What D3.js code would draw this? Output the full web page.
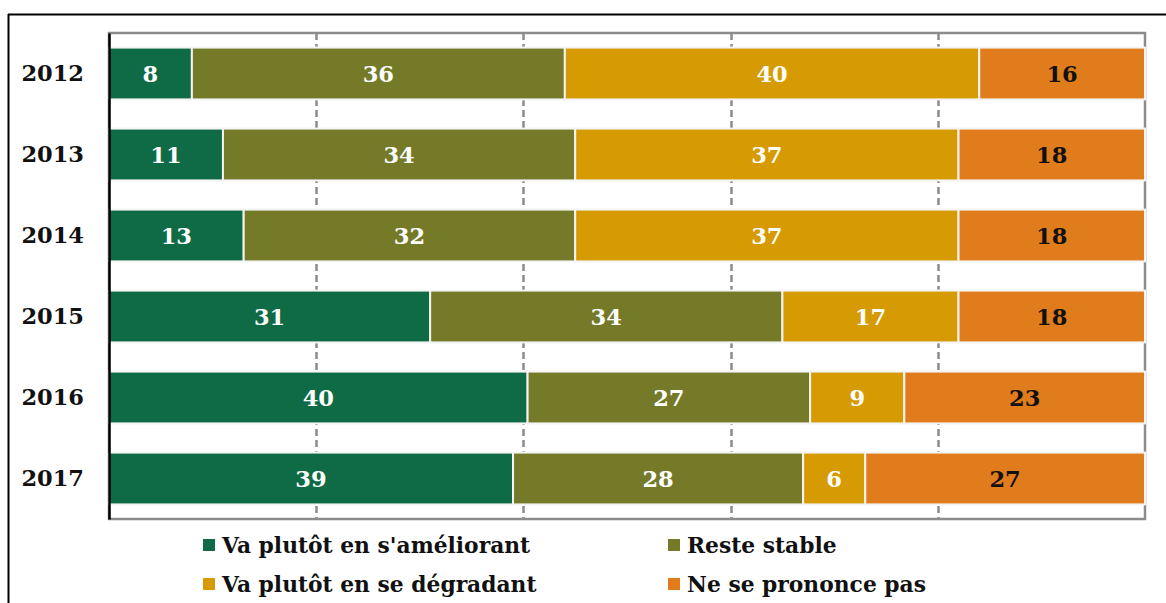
<!DOCTYPE html>
<html>
<head>
<meta charset="utf-8">
<script src="https://cdn.jsdelivr.net/npm/d3@7/dist/d3.min.js"></script>
<style>
  html, body { margin: 0; padding: 0; background: #fff; }
  svg { display: block; }
  text { font-family: "DejaVu Serif", "Liberation Serif", serif; font-weight: bold; }
</style>
</head>
<body>
<svg id="chart" width="1166" height="603"></svg>
<script>
// Survey years (one horizontal bar each)
const years = ["2012", "2013", "2014", "2015", "2016", "2017"];

// Answer categories, in stacking order
const series = [
  "Va plutôt en s'améliorant",
  "Reste stable",
  "Va plutôt en se dégradant",
  "Ne se prononce pas"
];

// Percentages per year, one array per answer
const improving = [8, 11, 13, 31, 40, 39];
const stable    = [36, 34, 32, 34, 27, 28];
const worsening = [40, 37, 37, 17, 9, 6];
const noAnswer  = [16, 18, 18, 18, 23, 27];

const colors = ["#0e6b46", "#747a28", "#d69a02", "#e07c1b"];
const labelColors = ["#ffffff", "#ffffff", "#ffffff", "#111111"];

// Percentage gridlines
const gridTicks = [0, 20, 40, 60, 80, 100];

const values = [improving, stable, worsening, noAnswer];
const rows = years.map((y, i) => {
  const row = { year: y };
  series.forEach((s, k) => { row[s] = values[k][i]; });
  return row;
});

const svg = d3.select("#chart");
const W = 1166, H = 603;
const plot = { left: 109, right: 1145, top: 33, bottom: 519 };

// Frame lines around the chart object
svg.append("line").attr("x1", 8).attr("x2", W).attr("y1", 14.5).attr("y2", 14.5)
  .attr("stroke", "#000").attr("stroke-width", 2);
svg.append("line").attr("x1", 8.5).attr("x2", 8.5).attr("y1", 14).attr("y2", H)
  .attr("stroke", "#000").attr("stroke-width", 2);

const x = d3.scaleLinear().domain([0, 100]).range([plot.left, plot.right]);
const y = d3.scaleBand().domain(years).range([plot.top, plot.bottom]).paddingInner(0.36).paddingOuter(0.18);

// Plot area border
svg.append("rect")
  .attr("x", plot.left).attr("y", plot.top)
  .attr("width", plot.right - plot.left).attr("height", plot.bottom - plot.top)
  .attr("fill", "none").attr("stroke", "#8c8c8c").attr("stroke-width", 2.5);

// Dashed vertical gridlines
svg.append("g")
  .selectAll("line")
  .data(gridTicks.filter(t => t > 0 && t < 100))
  .join("line")
  .attr("x1", d => Math.round(x(d)) + 0.5).attr("x2", d => Math.round(x(d)) + 0.5)
  .attr("y1", plot.top).attr("y2", plot.bottom)
  .attr("stroke", "#8c8c8c").attr("stroke-width", 2.5)
  .attr("stroke-dasharray", "7,4");

// Stacked bars, each row normalised to 100 %
const stack = d3.stack().keys(series).offset(d3.stackOffsetExpand);
const layers = stack(rows);

const groups = svg.append("g")
  .selectAll("g")
  .data(layers)
  .join("g")
  .attr("fill", (d, i) => colors[i]);

groups.selectAll("rect")
  .data(d => d)
  .join("rect")
  .attr("x", d => x(d[0] * 100))
  .attr("y", d => y(d.data.year))
  .attr("width", d => x(d[1] * 100) - x(d[0] * 100))
  .attr("height", y.bandwidth())
  .attr("stroke", "#f4f4f4")
  .attr("stroke-width", 2);

// Value labels centred in each segment
groups.each(function (layer, i) {
  d3.select(this).selectAll("text")
    .data(layer)
    .join("text")
    .attr("x", d => (x(d[0] * 100) + x(d[1] * 100)) / 2)
    .attr("y", d => y(d.data.year) + y.bandwidth() / 2)
    .attr("dy", "0.37em")
    .attr("text-anchor", "middle")
    .attr("font-size", 22.5)
    .attr("fill", labelColors[i])
    .text(d => d.data[layer.key]);
});

// Category axis (left)
const yAxis = svg.append("g")
  .attr("transform", `translate(${plot.left},0)`)
  .call(d3.axisLeft(y).tickSize(0).tickPadding(25));
yAxis.select(".domain").attr("stroke", "#000").attr("stroke-width", 2.5);
yAxis.selectAll("text")
  .attr("font-size", 22.5)
  .attr("fill", "#111")
  .style("font-family", "'DejaVu Serif', serif")
  .style("font-weight", "bold");

// Legend, two columns by two rows
const legendPos = [
  { x: 203, y: 545 }, { x: 668, y: 545 },
  { x: 203, y: 584 }, { x: 668, y: 584 }
];
const legend = svg.append("g")
  .selectAll("g")
  .data(series)
  .join("g")
  .attr("transform", (d, i) => `translate(${legendPos[i].x},${legendPos[i].y})`);
legend.append("rect")
  .attr("x", 0).attr("y", -6).attr("width", 12).attr("height", 12)
  .attr("fill", (d, i) => colors[i]);
legend.append("text")
  .attr("x", 19).attr("y", 0).attr("dy", "0.36em")
  .attr("font-size", 21.8)
  .attr("fill", "#111")
  .text(d => d);
</script>
</body>
</html>
